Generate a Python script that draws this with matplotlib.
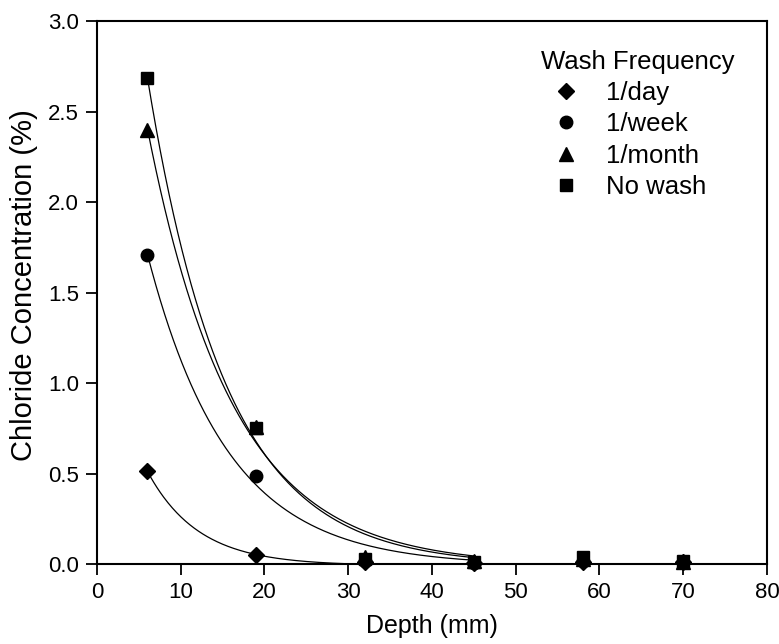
import numpy as np
import matplotlib
matplotlib.use("Agg")
from matplotlib import pyplot as plt

plt.rcParams['font.family'] = ['Liberation Sans', 'DejaVu Sans']

depth = [6, 19, 32, 45, 58, 70]
labels = ['1/day', '1/week', '1/month', 'No wash']
markers = ['D', 'o', '^', 's']
msizes = [8.5, 9, 9.5, 8]
day = [0.515, 0.05, 0.01, 0.005, 0.01, 0.01]
week = [1.71, 0.486, 0.02, 0.005, 0.02, 0.01]
month = [2.40, 0.757, 0.04, 0.015, 0.03, 0.01]
nowash = [2.685, 0.75, 0.03, 0.01, 0.04, 0.02]
series = [day, week, month, nowash]

fit_end = 45
offset = -0.008   # small baseline of the decay fits


def exp_fit(x, y):
    # least squares fit of y = offset + a*exp(-b*x), scanned over b
    x = np.asarray(x, float)
    y = np.asarray(y, float) - offset
    best = None
    for b in np.linspace(0.02, 0.5, 4000):
        e = np.exp(-b * x)
        a = (e @ y) / (e @ e)
        err = np.sum((y - a * e) ** 2)
        if best is None or err < best[0]:
            best = (err, a, b)
    return best[1], best[2]


fig, ax = plt.subplots(figsize=(7.79, 6.44), dpi=100)
fig.subplots_adjust(left=0.1245, right=0.9846, top=0.967, bottom=0.124)

for vals, lab, m, ms in zip(series, labels, markers, msizes):
    xs = [d for d in depth if d <= fit_end]
    ys = vals[:len(xs)]
    a, b = exp_fit(xs, ys)
    xx = np.linspace(depth[0], fit_end, 300)
    ax.plot(xx, offset + a * np.exp(-b * xx), color='black', lw=0.9)
    ax.plot(depth, vals, linestyle='none', marker=m, ms=ms, color='black',
            label=lab, clip_on=False, zorder=3)

ax.set_xlim(0, 80)
ax.set_ylim(0, 3.0)
ax.set_xticks(np.arange(0, 81, 10))
ax.set_yticks(np.arange(0, 3.01, 0.5))
ax.set_yticklabels(['%.1f' % v for v in np.arange(0, 3.01, 0.5)])
ax.tick_params(direction='out', length=8, width=1.3, labelsize=16, pad=5)
for s in ax.spines.values():
    s.set_linewidth(1.5)

ax.set_xlabel('Depth (mm)', fontsize=18, labelpad=8)
ax.set_ylabel('Chloride Concentration (%)', fontsize=21, labelpad=4)
ax.yaxis.set_label_coords(-0.088, 0.514)

leg = ax.legend(title='Wash Frequency', frameon=False, loc='upper left',
                bbox_to_anchor=(0.647, 0.966), fontsize=18.5, title_fontsize=18.5,
                handlelength=2.0, handletextpad=0.55, labelspacing=0.28,
                borderaxespad=0)
leg._legend_box.align = 'left'

fig.savefig('out.png', dpi=100)
